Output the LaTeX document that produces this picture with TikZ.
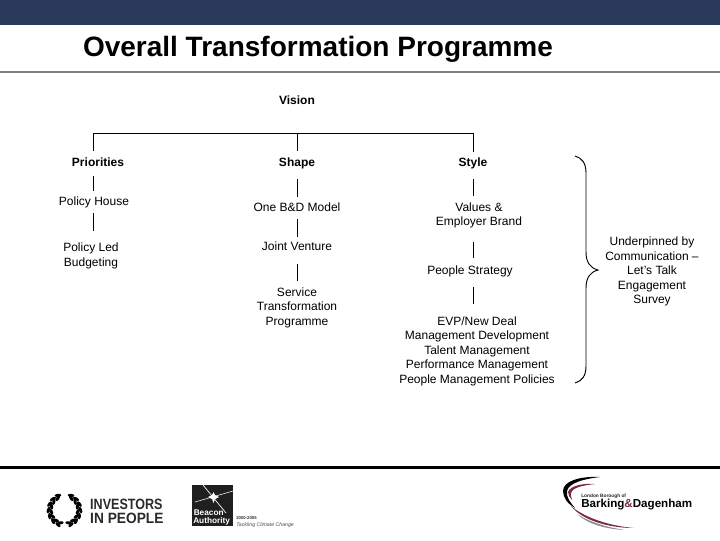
\documentclass[tikz,border=0pt]{standalone}
\usepackage{fontspec}
\setmainfont{Liberation Sans}
\definecolor{topbar}{HTML}{2A3A5A}
\definecolor{ruleg}{HTML}{808080}
\definecolor{maroon}{HTML}{7A2A3A}
\definecolor{ippgrey}{HTML}{2A2A2A}
\usetikzlibrary{shapes.geometric,calc}
\tikzset{
  lbl/.style={inner sep=0pt,align=center,anchor=base,font=\fontsize{9pt}{10.9pt}\selectfont},
  head/.style={lbl,font=\fontsize{9pt}{10.9pt}\selectfont\bfseries},
  conn/.style={draw=black,line width=0.75pt},
  leaf/.style={fill=black,draw=none,ellipse,minimum width=5pt,minimum height=2.4pt,inner sep=0pt},
  ipp/.style={inner sep=0pt,anchor=base west,font=\fontsize{11.2pt}{12pt}\selectfont\bfseries,text=ippgrey},
}
\begin{document}
\begin{tikzpicture}[x=0.75pt,y=-0.75pt]
\useasboundingbox (0,0) rectangle (720,540);
\fill[white] (0,0) rectangle (720,540);
\fill[topbar] (0,0) rectangle (720,25);
\fill[ruleg] (0,71) rectangle (720,73);
\fill[black] (0,466) rectangle (720,468.5);
\node[inner sep=0pt,anchor=base,font=\fontsize{21pt}{24pt}\selectfont\bfseries] (title) at (318,56.5) {Overall Transformation Programme};
% labels (anchored at the baseline of the last line)
\node[head] (vision) at (297,104) {Vision};
\node[head] (prio) at (98,166) {Priorities};
\node[head] (shape) at (297,166) {Shape};
\node[head] (style) at (473,166) {Style};
\node[lbl] (house) at (94,205.7) {Policy House};
\node[lbl] (led) at (91,266) {Policy Led\\Budgeting};
\node[lbl] (bd) at (297,211.7) {One B\&D Model};
\node[lbl] (jv) at (297,250.7) {Joint Venture};
\node[lbl] (stp) at (297,325.5) {Service\\Transformation\\Programme};
\node[lbl] (values) at (479,225.7) {Values \&\\Employer Brand};
\node[lbl] (ps) at (470,274) {People Strategy};
\node[lbl] (evp) at (477,383.2) {EVP/New Deal\\Management Development\\Talent Management\\Performance Management\\People Management Policies};
\node[lbl] (under) at (652,303.7) {Underpinned by\\Communication –\\Let\symbol{39}s Talk\\Engagement\\Survey};
% tree
\coordinate (barL) at (93,133);
\coordinate (barM) at (297,133);
\coordinate (barR) at (473,133);
\draw[conn] ($(prio.base -| barL)+(0,-15)$) -- (barL) -- (barR) -- ($(style.base -| barR)+(0,-14)$);
\draw[conn] (barM) -- ($(shape.base -| barM)+(0,-15)$);
\draw[conn] ($(prio.base -| barL)+(0,10)$) -- ($(house.base -| barL)+(0,-14.7)$);
\draw[conn] ($(house.base -| barL)+(0,7.3)$) -- ($(led.north -| barL)+(0,-11.4)$);
\draw[conn] ($(shape.base -| barM)+(0,13)$) -- ($(bd.base -| barM)+(0,-14.7)$);
\draw[conn] ($(bd.base -| barM)+(0,7.3)$) -- ($(jv.base -| barM)+(0,-13.7)$);
\draw[conn] ($(jv.base -| barM)+(0,13.3)$) -- ($(stp.north -| barM)+(0,-6)$);
\draw[conn] ($(style.base -| barR)+(0,13)$) -- ($(values.north -| barR)+(0,-6.3)$);
\draw[conn] ($(values.base -| barR)+(0,16.3)$) -- ($(ps.base -| barR)+(0,-16)$);
\draw[conn] ($(ps.base -| barR)+(0,13)$) -- ($(evp.north -| barR)+(0,-11.8)$);
% brace
\coordinate (braceTop) at (575,156);
\coordinate (braceBot) at (575,383);
\coordinate (braceTip) at (598,270);
\draw[conn,line width=0.7pt] (braceTop) .. controls (582,158) and (586,163) .. (586,173)
  -- (586,252) .. controls (586,262) and (590,268) .. (braceTip)
  .. controls (590,272) and (586,278) .. (586,288)
  -- (586,366) .. controls (586,376) and (582,381) .. (braceBot);
% Investors in People logo
\foreach \a in {-72,-50,-28,-6,16,38,60}{
  \node[leaf,rotate=\a+65] at ({64.5+13.5*cos(\a)},{510-13.5*sin(\a)}) {};
  \node[leaf,rotate=\a+115] at ({64.5+16*cos(\a+6)},{510-16*sin(\a+6)}) {};
  \node[leaf,rotate=-\a-65] at ({64.5-13.5*cos(\a)},{510-13.5*sin(\a)}) {};
  \node[leaf,rotate=-\a-115] at ({64.5-16*cos(\a+6)},{510-16*sin(\a+6)}) {};
}
\node[ipp,xscale=0.84] (ipp1) at (90,509) {INVESTORS};
\node[ipp,xscale=0.92] (ipp2) at (90,523.5) {IN PEOPLE};
% Beacon logo
\fill[black!88] (192,485) rectangle (233,526);
\draw[white,line width=0.5pt] (203,485) -- (226,513);
\draw[white,line width=0.4pt] (195,502) -- (233,491);
\fill[white] (212,495) -- (213.5,492) -- (215,495) -- (219,497) -- (215,499) -- (213.5,503) -- (212,499) -- (208,497) -- cycle;
\node[inner sep=0pt,anchor=base west,text=white,font=\fontsize{6.2pt}{6pt}\selectfont\bfseries] (b1) at (193.5,515) {Beacon};
\node[inner sep=0pt,anchor=base west,text=white,font=\fontsize{6.2pt}{6pt}\selectfont\bfseries] (b2) at (193,523.5) {Authority};
\node[inner sep=0pt,anchor=base west,font=\fontsize{3.2pt}{4pt}\selectfont\bfseries,text=black!80] (b3) at (236,519) {2000-2005};
\node[inner sep=0pt,anchor=base west,font=\fontsize{3.9pt}{4pt}\selectfont\itshape,text=black!70] (b4) at (236,526) {Tackling Climate Change};
% Barking logo
\fill[black] (600,477) .. controls (580,476) and (563,481) .. (563,491)
  .. controls (563,498) and (568,504) .. (575,508)
  .. controls (570,502) and (566,497) .. (567,491)
  .. controls (569,483) and (583,479) .. (600,477) -- cycle;
\fill[maroon] (595,484) .. controls (582,483) and (570,486) .. (568,492)
  .. controls (568,495) and (570,498) .. (572,500)
  .. controls (571,497) and (570,494) .. (572,491)
  .. controls (575,487) and (585,485) .. (595,484) -- cycle;
\fill[maroon] (571,506) .. controls (585,518) and (610,526) .. (634,528)
  .. controls (610,528) and (583,521) .. (571,506) -- cycle;
\fill[black!45] (577,514) .. controls (590,522) and (605,527) .. (625,530)
  .. controls (605,529) and (588,524) .. (577,514) -- cycle;
\node[inner sep=0pt,anchor=base west,font=\fontsize{3.6pt}{4pt}\selectfont\bfseries,text=black!85] (bk1) at (581,497) {London Borough of};
\node[inner sep=0pt,anchor=base west,font=\fontsize{8.7pt}{11pt}\selectfont\bfseries,text=black] (bk2) at (581,507) {Barking\textcolor{maroon}{\&}Dagenham};
\end{tikzpicture}
\end{document}
